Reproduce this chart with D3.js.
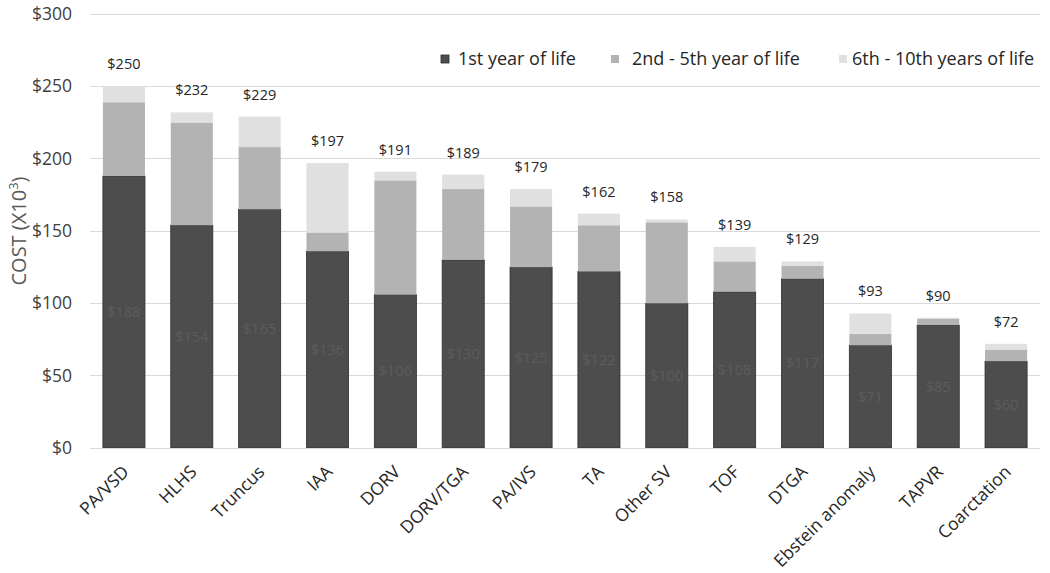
<!DOCTYPE html>
<html>
<head>
<meta charset="utf-8">
<script src="https://cdn.jsdelivr.net/npm/d3@7"></script>
<style>
  html, body { margin: 0; padding: 0; background: #fff; }
  svg { display: block; font-family: "Open Sans", "Noto Sans", sans-serif; }
</style>
</head>
<body>
<svg id="chart" width="1050" height="573"></svg>
<script>
const categories = ["PA/VSD","HLHS","Truncus","IAA","DORV","DORV/TGA","PA/IVS","TA","Other SV","TOF","DTGA","Ebstein anomaly","TAPVR","Coarctation"];
const year1     = [188, 154, 165, 136, 106, 130, 125, 122, 100, 108, 117, 71, 85, 60];
const years2to5 = [51, 71, 43, 13, 79, 49, 42, 32, 56, 21, 9, 8, 4.5, 8];
const years6to10= [11, 7, 21, 48, 6, 10, 12, 8, 2, 10, 3, 14, 0.5, 4];
const totals    = [250, 232, 229, 197, 191, 189, 179, 162, 158, 139, 129, 93, 90, 72];
const seriesNames = ["1st year of life", "2nd - 5th year of life", "6th - 10th years of life"];
const yTicks = [0, 50, 100, 150, 200, 250, 300];

const colors = ["#4d4d4d", "#b3b3b3", "#e0e0e0"];
const svg = d3.select("#chart");
const pLeft = 90, pRight = 1040, pTop = 14, pBottom = 448;

const x = d3.scaleBand().domain(categories).range([pLeft, pRight]).paddingInner(0.38).paddingOuter(0.19);
const y = d3.scaleLinear().domain([0, 300]).range([pBottom, pTop]);

// gridlines
svg.append("g").selectAll("line").data(yTicks).join("line")
  .attr("x1", pLeft).attr("x2", pRight)
  .attr("y1", d => y(d)).attr("y2", d => y(d))
  .attr("stroke", "#d9d9d9").attr("stroke-width", 1).attr("shape-rendering", "crispEdges");

// y axis labels
const yAxis = svg.append("g").attr("transform", `translate(${pLeft},0)`)
  .call(d3.axisLeft(y).tickValues(yTicks).tickSize(0).tickPadding(18).tickFormat(d => "$" + d));
yAxis.select(".domain").remove();
yAxis.selectAll("text").attr("font-size", 17.5).attr("fill", "#404040").attr("font-family", "Open Sans");

// stacked data
const rows = categories.map((c, i) => ({cat: c, s0: year1[i], s1: years2to5[i], s2: years6to10[i]}));
const stack = d3.stack().keys(["s0", "s1", "s2"])(rows);

svg.append("g").selectAll("g").data(stack).join("g")
  .attr("fill", (d, i) => colors[i])
  .selectAll("rect").data(d => d).join("rect")
  .attr("x", d => x(d.data.cat))
  .attr("width", x.bandwidth())
  .attr("y", d => y(d[1]))
  .attr("height", d => Math.max(0, y(d[0]) - y(d[1])))
  .attr("stroke", function() { return d3.select(this.parentNode).datum().key === "s0" ? "#2e2e2e" : "none"; })
  .attr("stroke-width", 0.8);

// bottom axis line
svg.append("line").attr("x1", pLeft).attr("x2", pRight).attr("y1", pBottom).attr("y2", pBottom)
  .attr("stroke", "#d9d9d9").attr("stroke-width", 1).attr("shape-rendering", "crispEdges");

// inner labels for 1st year
svg.append("g").selectAll("text").data(rows).join("text")
  .attr("x", d => x(d.cat) + x.bandwidth() / 2)
  .attr("y", d => (y(0) + y(d.s0)) / 2)
  .attr("dy", "0.35em")
  .attr("text-anchor", "middle")
  .attr("font-size", 14.5)
  .attr("fill", "#5c5c5c")
  .text(d => "$" + d.s0);

// total labels
svg.append("g").selectAll("text").data(categories).join("text")
  .attr("x", d => x(d) + x.bandwidth() / 2)
  .attr("y", (d, i) => y(totals[i]) - 17)
  .attr("text-anchor", "middle")
  .attr("font-size", 14.5)
  .attr("fill", "#262626")
  .text((d, i) => "$" + totals[i]);

// x labels
svg.append("g").selectAll("text").data(categories).join("text")
  .attr("transform", d => `translate(${x(d) + x.bandwidth() / 2 + 6},${pBottom + 25}) rotate(-45)`)
  .attr("text-anchor", "end")
  .attr("font-size", 17.5)
  .attr("fill", "#262626")
  .text(d => d);

// y axis title
const title = svg.append("text")
  .attr("transform", `translate(26,231) rotate(-90)`)
  .attr("text-anchor", "middle")
  .attr("font-size", 20)
  .attr("fill", "#595959");
title.append("tspan").text("COST (X10");
title.append("tspan").attr("font-size", 13).attr("dy", -8).text("3");
title.append("tspan").attr("dy", 8).text(")");

// legend
const legendX = [441, 611, 839];
const leg = svg.append("g").selectAll("g").data(seriesNames).join("g")
  .attr("transform", (d, i) => `translate(${legendX[i]},59)`);
leg.append("rect").attr("x", 0).attr("y", -4).attr("width", 8).attr("height", 8)
  .attr("fill", (d, i) => colors[i])
  .attr("stroke", (d, i) => i === 0 ? "#2e2e2e" : "none").attr("stroke-width", 0.8);
leg.append("text").attr("x", (d, i) => i === 1 ? 21 : (i === 0 ? 17 : 13)).attr("dy", "0.35em")
  .attr("font-size", 18).attr("fill", "#262626").text(d => d);
</script>
</body>
</html>
